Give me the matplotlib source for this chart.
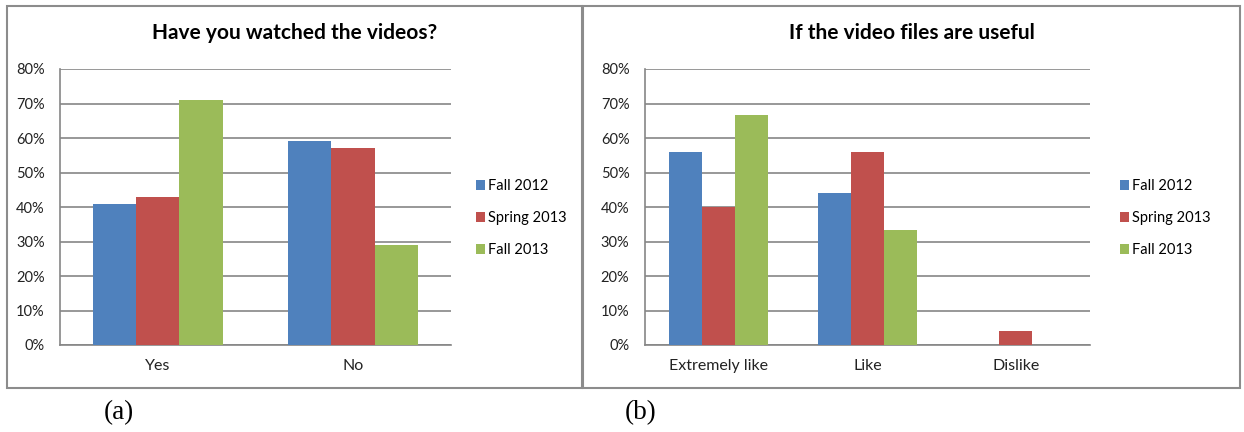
"""
Survey results on the course videos: two grouped bar charts side by side.
"""
import matplotlib.pyplot as plt
from matplotlib.patches import Rectangle
from matplotlib.ticker import PercentFormatter
import numpy as np

semesters = ['Fall 2012', 'Spring 2013', 'Fall 2013']
colors = ['#4F81BD', '#C0504D', '#9BBB59']

watched_labels = ['Yes', 'No']
watched = {
    'Fall 2012': [41, 59],
    'Spring 2013': [43, 57],
    'Fall 2013': [71, 29],
}

useful_labels = ['Extremely like', 'Like', 'Dislike']
useful = {
    'Fall 2012': [56, 44, 0],
    'Spring 2013': [40, 56, 4],
    'Fall 2013': [66.7, 33.3, 0],
}

W, H = 1244, 432
plt.rcParams['font.family'] = ['Lato', 'DejaVu Sans']
GRID = '#868686'


def px(x0, y0, x1, y1):
    # pixel box (top-left origin) -> figure fraction rect
    return [x0 / W, 1 - y1 / H, (x1 - x0) / W, (y1 - y0) / H]


def bar_panel(fig, rect, cats, data, title, title_x, legend_x):
    ax = fig.add_axes(rect)
    x = np.arange(len(cats))
    w = 1 / 4.5  # 150% gap between groups
    for i, name in enumerate(semesters):
        ax.bar(x + (i - 1) * w, data[name], w, color=colors[i], label=name, zorder=3)
    ax.set_xlim(-0.5, len(cats) - 0.5)
    ax.set_ylim(0, 80)
    ax.set_yticks(range(0, 81, 10))
    ax.yaxis.set_major_formatter(PercentFormatter(decimals=0))
    ax.set_xticks(x)
    ax.set_xticklabels(cats)
    ax.tick_params(length=0, labelsize=10.5, colors='#222222')
    ax.tick_params(axis='y', pad=11)
    ax.tick_params(axis='x', pad=10, labelsize=11.5)
    ax.grid(axis='y', color=GRID, linewidth=1.2, zorder=0)
    for side in ['top', 'right']:
        ax.spines[side].set_visible(False)
    for side in ['left', 'bottom']:
        ax.spines[side].set_color(GRID)
        ax.spines[side].set_linewidth(1.2)
    fig.text(title_x / W, 1 - 33 / H, title, ha='center', va='center',
             fontsize=15, fontweight='bold')
    ax.legend(loc='center left', bbox_to_anchor=(legend_x / W, 1 - 218 / H),
              bbox_transform=fig.transFigure, frameon=False, fontsize=10.5,
              handlelength=0.65, handleheight=0.65, handletextpad=0.2,
              labelspacing=1.25, borderpad=0, borderaxespad=0)
    return ax


fig = plt.figure(figsize=(W / 100, H / 100), dpi=100)

# panel frames
for x0, x1 in [(7, 582), (583, 1240)]:
    fig.patches.append(Rectangle((x0 / W, 1 - 388 / H), (x1 - x0) / W, 382 / H,
                                 transform=fig.transFigure, fill=False,
                                 edgecolor='#8c8c8c', linewidth=1.5))

bar_panel(fig, px(60, 69, 450.7, 345), watched_labels, watched,
          'Have you watched the videos?', 295, 476)
bar_panel(fig, px(644.7, 69, 1090.2, 345), useful_labels, useful,
          'If the video files are useful', 912, 1120)

fig.text(119 / W, 1 - 413 / H, '(a)', ha='center', va='center',
         fontsize=19.5, family='Liberation Serif')
fig.text(641 / W, 1 - 413 / H, '(b)', ha='center', va='center',
         fontsize=19.5, family='Liberation Serif')

plt.savefig('out.png', dpi=100)
